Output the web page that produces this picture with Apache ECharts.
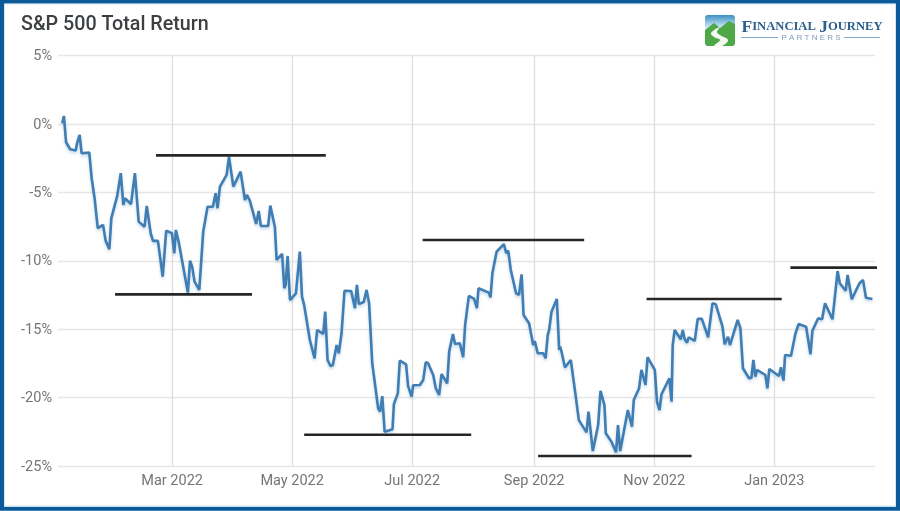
<!DOCTYPE html>
<html>
<head>
<meta charset="utf-8">
<style>html,body{margin:0;padding:0;background:#fff}#chart{width:900px;height:511px}</style>
<script src="https://cdn.jsdelivr.net/npm/echarts@6/dist/echarts.min.js"></script>
</head>
<body>
<div id="chart"></div>
<script>
// Days elapsed since 2 Jan 2022 for each turning point of the index
const sessionDays = [
  2.2,3.0,4.1,6.2,9.0,9.7,11.0,12.0,15.9,17.1,18.6,20.2,22.9,24.2,26.1,27.1,30.1,31.9,33.2,34.0,
  37.1,39.1,41.0,44.0,45.1,46.1,47.1,48.3,50.8,53.2,55.0,57.9,59.1,59.9,61.3,66.0,67.1,68.2,69.4,71.8,
  73.8,76.0,78.7,80.1,81.1,82.3,85.7,86.9,89.1,92.8,95.0,96.0,97.5,100.7,102.0,103.1,106.8,107.9,108.9,110.2,
  111.1,113.9,115.0,115.7,116.7,117.9,120.9,122.9,124.0,125.1,128.0,128.9,130.4,131.7,134.8,135.8,137.0,138.5,139.7,141.6,
  142.7,144.1,145.6,149.0,150.9,151.9,152.9,155.4,156.8,158.1,159.7,162.7,163.7,164.8,166.0,170.0,170.7,171.7,172.7,173.7,
  176.9,177.9,178.8,179.7,180.5,183.9,185.6,186.9,188.1,190.7,192.0,193.7,194.9,197.8,198.8,200.7,201.8,204.2,205.9,206.9,
  208.8,211.5,212.9,213.7,218.9,219.8,220.8,221.6,222.9,226.6,227.8,228.8,230.1,232.8,234.3,235.6,236.6,239.4,241.5,242.3,
  243.8,246.6,247.8,248.9,249.6,250.8,253.5,254.7,255.2,255.9,257.6,260.6,262.8,264.7,268.6,269.6,271.8,274.5,275.7,276.7,
  277.7,278.4,281.3,283.6,284.6,285.7,289.6,291.7,292.6,295.3,296.5,298.6,299.6,303.3,304.4,305.7,306.7,310.7,311.8,312.4,
  313.4,316.5,317.5,318.5,319.7,320.5,323.6,325.1,327.2,330.4,331.4,332.6,334.3,337.7,338.8,339.7,340.5,341.5,345.4,346.8,
  348.1,351.2,352.4,353.4,354.4,355.2,359.5,360.5,361.5,366.4,367.4,368.7,369.5,372.5,374.8,376.4,380.2,382.4,383.4,386.3,
  388.3,389.8,390.8,393.6,396.2,397.3,400.3,401.3,403.4,407.3,409.1,410.6,411.6,413.9
];

// S&P 500 total return, percent, at those points
const totalReturn = [
  0.05,0.58,-1.34,-1.85,-1.95,-1.41,-0.80,-2.14,-2.10,-3.97,-5.43,-7.62,-7.38,-8.53,-9.16,-6.89,-5.26,-3.60,-5.92,-5.43,
  -5.85,-3.60,-7.14,-7.51,-5.99,-5.94,-7.99,-8.55,-8.55,-11.16,-7.80,-7.99,-9.45,-7.75,-8.60,-12.33,-9.99,-10.43,-11.53,-12.13,
  -7.87,-6.05,-6.05,-5.07,-6.16,-4.58,-3.73,-2.39,-4.58,-3.49,-5.56,-5.19,-5.61,-7.31,-6.36,-7.46,-7.46,-5.97,-6.05,-7.51,
  -9.94,-9.50,-12.01,-11.77,-9.65,-12.87,-12.38,-9.33,-12.62,-13.23,-15.79,-15.67,-17.13,-15.06,-15.35,-13.72,-17.25,-17.69,-17.62,-16.16,
  -16.76,-15.30,-12.19,-12.21,-13.47,-11.77,-13.16,-13.01,-12.13,-13.11,-17.49,-20.78,-21.03,-19.89,-22.49,-22.32,-20.47,-20.42,-19.69,-17.30,
  -17.57,-19.15,-19.25,-19.93,-19.10,-19.08,-18.71,-17.42,-17.49,-18.35,-19.32,-19.81,-18.28,-18.96,-16.64,-15.35,-16.08,-16.03,-17.05,-14.69,
  -12.57,-12.79,-13.47,-12.01,-12.33,-12.67,-10.87,-10.87,-9.34,-8.79,-9.45,-9.26,-10.67,-12.38,-12.50,-10.99,-13.96,-14.57,-16.16,-15.86,
  -16.76,-16.76,-17.13,-15.42,-15.06,-13.72,-12.79,-16.52,-16.28,-16.65,-17.79,-17.25,-19.57,-21.65,-22.54,-21.03,-23.91,-22.01,-19.50,-19.57,
  -20.55,-22.61,-23.23,-24.00,-22.01,-23.91,-20.91,-22.13,-20.18,-19.32,-17.98,-19.08,-17.05,-17.98,-20.30,-20.91,-19.76,-18.59,-20.30,-16.16,
  -15.06,-15.74,-15.06,-15.74,-15.99,-15.59,-15.86,-14.25,-14.25,-15.59,-15.72,-13.11,-13.18,-14.82,-16.10,-16.16,-15.55,-16.16,-14.33,-14.93,
  -17.86,-18.59,-18.55,-17.25,-18.47,-17.98,-18.35,-19.32,-17.91,-18.42,-17.78,-18.76,-16.89,-16.94,-15.30,-14.62,-14.82,-16.83,-15.11,-14.20,
  -14.28,-13.11,-13.23,-14.28,-10.75,-11.64,-12.19,-11.04,-12.81,-11.64,-11.40,-12.70,-12.81,-12.79
];

// Support and resistance levels: start day, end day, level in percent
const levelStarts = [49.8, 29.0, 125.1, 185.3, 244.0, 299.1, 372.2];
const levelEnds   = [136.1, 98.6, 210.0, 267.4, 322.0, 367.8, 420.4];
const levelValues = [-2.3, -12.46, -22.72, -8.48, -24.27, -12.79, -10.5];

// First of each labelled month, in days since 2 Jan 2022
const tickDays   = [58, 119, 180, 242, 303, 364];
const tickLabels = ['Mar 2022','May 2022','Jul 2022','Sep 2022','Nov 2022','Jan 2023'];

const chart = echarts.init(document.getElementById('chart'), null, { renderer: 'canvas' });

const levelSeries = levelValues.map((v, i) => ({
  type: 'line',
  data: [[levelStarts[i], v], [levelEnds[i], v]],
  symbol: 'none',
  clip: false,
  z: 4,
  silent: true,
  lineStyle: { color: '#262626', width: 2.6 }
}));

chart.setOption({
  animation: false,
  backgroundColor: '#fff',
  title: {
    text: 'S&P 500 Total Return',
    left: 21, top: 15, padding: 0,
    textStyle: { fontFamily: 'Roboto', fontSize: 19.7, fontWeight: 500, color: '#3d4043' }
  },
  grid: { left: 58, right: 25, top: 55.5, bottom: 45 },
  xAxis: {
    type: 'value',
    min: 0,
    max: 415.2,
    axisLine: { show: false },
    axisTick: { show: false, customValues: tickDays },
    splitLine: { show: true, showMinLine: true, showMaxLine: true, lineStyle: { color: '#dedede', width: 1.3 } },
    axisLabel: {
      customValues: tickDays,
      formatter: v => tickLabels[tickDays.indexOf(+v)] || '',
      fontFamily: 'Roboto', fontSize: 14.5, color: '#757575', margin: 8
    }
  },
  yAxis: {
    type: 'value',
    min: -25, max: 5, interval: 5,
    axisLine: { show: false },
    axisTick: { show: false },
    splitLine: { show: true, lineStyle: { color: '#e6e6e6', width: 1.3 } },
    axisLabel: {
      formatter: '{value}%',
      fontFamily: 'Roboto', fontSize: 14.5, color: '#757575', margin: 6,
      verticalAlign: 'top', lineHeight: 2
    }
  },
  series: [{
    type: 'line',
    data: sessionDays.map((d, i) => [d, totalReturn[i]]),
    symbol: 'none',
    z: 3,
    lineStyle: {
      color: '#3f7db3', width: 2.6,
      shadowColor: 'rgba(63,125,179,0.3)', shadowBlur: 3, shadowOffsetY: 2
    }
  }].concat(levelSeries),
  graphic: [
    // Frame around the card
    { type: 'rect', silent: true, z: 10, shape: { x: 2, y: 1.7, width: 896, height: 507 },
      style: { fill: 'none', stroke: '#0b5a9a', lineWidth: 4 } },
    { type: 'rect', silent: true, z: 10, shape: { x: 4.5, y: 4, width: 891, height: 502 },
      style: { fill: 'none', stroke: '#d6e8f4', lineWidth: 1 } },
    // Company mark: sky, green hills and a winding road
    { type: 'rect', silent: true, z: 10, shape: { x: 705, y: 15, width: 30, height: 31, r: 3 },
      style: { fill: { type: 'linear', x: 0, y: 0, x2: 0, y2: 1, colorStops: [
        { offset: 0, color: '#3f8fc4' }, { offset: 0.3, color: '#a9d4ea' }, { offset: 0.45, color: '#d8ecf4' }, { offset: 1, color: '#d8ecf4' }] } } },
    { type: 'polygon', silent: true, z: 11,
      shape: { points: [[705,30],[714,23],[720,28],[729,21],[735,24],[735,44],[733,46],[707,46],[705,44]] },
      style: { fill: '#4fa847' } },
    { type: 'polygon', silent: true, z: 12,
      shape: { smooth: 0.4, points: [[720,27],[711,33],[714,37],[720,40],[714,46],[722,46],[728,40],[720,35],[717,32]] },
      style: { fill: '#f3f8f3' } },
    { type: 'text', silent: true, z: 11, x: 741.5, y: 18,
      style: {
        text: '{c|F}{s|INANCIAL} {c|J}{s|OURNEY}',
        rich: {
          c: { fontFamily: 'Liberation Serif', fontSize: 17.5, fontWeight: 'bold', fill: '#2b5f8e' },
          s: { fontFamily: 'Liberation Serif', fontSize: 12.6, fontWeight: 'bold', fill: '#2b5f8e' }
        }
      } },
    { type: 'rect', silent: true, z: 11, shape: { x: 741, y: 37, width: 37, height: 1 }, style: { fill: '#86a8c8' } },
    { type: 'rect', silent: true, z: 11, shape: { x: 844, y: 37, width: 36, height: 1 }, style: { fill: '#86a8c8' } },
    { type: 'text', silent: true, z: 11, x: 811, y: 37.5,
      style: { text: 'P A R T N E R S', fontFamily: 'Liberation Sans', fontSize: 8, fill: '#7f9dbb', align: 'center', verticalAlign: 'middle' } }
  ]
});
</script>
</body>
</html>
